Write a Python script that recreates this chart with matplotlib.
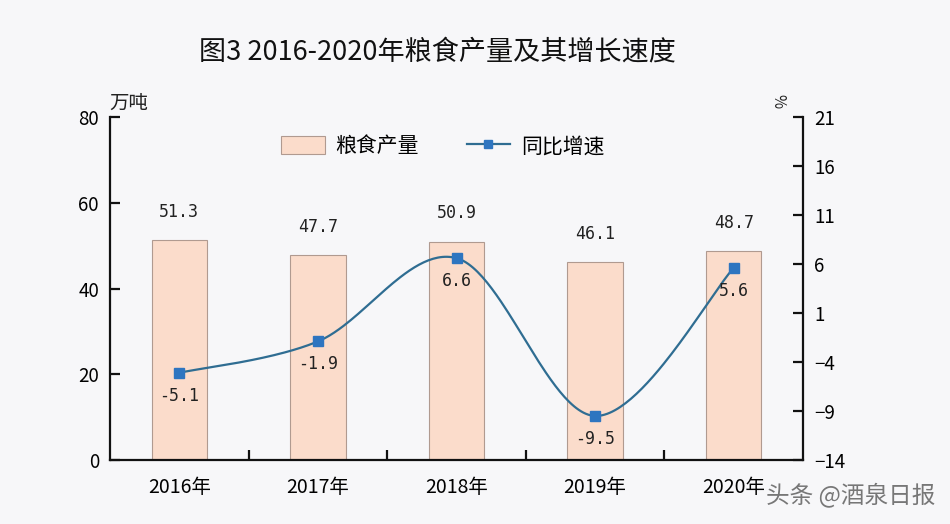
import numpy as np
import matplotlib
matplotlib.use("Agg")
import matplotlib.pyplot as plt
from matplotlib.lines import Line2D
from matplotlib.patches import Patch

plt.rcParams['font.family'] = ['Noto Sans CJK SC', 'DejaVu Sans']

years = ["2016年", "2017年", "2018年", "2019年", "2020年"]
output = [51.3, 47.7, 50.9, 46.1, 48.7]
growth = [-5.1, -1.9, 6.6, -9.5, 5.6]
left_ticks = [0, 20, 40, 60, 80]
right_ticks = [-14, -9, -4, 1, 6, 11, 16, 21]

bg = '#f7f7f9'
bar_fc = '#fbdccb'
bar_ec = '#b09a90'
line_c = '#2f6d92'
mark_c = '#2e75c0'

fig = plt.figure(figsize=(9.5, 5.24), dpi=100, facecolor=bg)
ax = fig.add_axes([0.1158, 0.1221, 0.7295, 0.6546])
ax.set_facecolor(bg)
x = np.arange(len(years))

ax.bar(x, output, width=0.40, color=bar_fc, edgecolor=bar_ec, linewidth=0.8, zorder=2)
ax.set_xlim(-0.5, len(years) - 0.5)
ax.set_ylim(0, 80)
ax.set_yticks(left_ticks)
for xi, v in zip(x, output):
    ax.annotate(f"{v:.1f}", (xi, v), xytext=(0, 14), textcoords='offset points',
                ha='center', va='bottom', fontsize=12, family='DejaVu Sans Mono', color='#222222')

for s in ['top', 'right']:
    ax.spines[s].set_visible(False)
for s in ['left', 'bottom']:
    ax.spines[s].set_linewidth(1.6)
    ax.spines[s].set_color('#111111')
ax.set_xticks(x)
ax.set_xticklabels(years, fontsize=14)
ax.tick_params(axis='x', length=0, pad=12)
ax.set_xticks(np.arange(0.5, len(years) - 0.5, 1), minor=True)
ax.tick_params(axis='x', which='minor', direction='in', length=7, width=1.6, color='#111111')
ax.tick_params(axis='y', direction='in', length=7, width=1.6, labelsize=13.5, pad=8, color='#111111')

ax2 = ax.twinx()
ax2.set_ylim(-14, 21)
ax2.set_yticks(right_ticks)
for s in ['top', 'left', 'bottom']:
    ax2.spines[s].set_visible(False)
ax2.spines['right'].set_linewidth(1.6)
ax2.spines['right'].set_color('#111111')
ax2.tick_params(axis='y', direction='in', length=7, width=1.6, labelsize=13.5, pad=8, color='#111111')

# smooth curve (Catmull-Rom through the data points)
g = np.asarray(growth, dtype=float)
px = np.concatenate([[x[0]], x, [x[-1]]]).astype(float)
py = np.concatenate([[g[0]], g, [g[-1]]])
cx, cy = [], []
for i in range(1, len(px) - 2):
    t = np.linspace(0, 1, 60)
    for arr, out in ((px, cx), (py, cy)):
        p0, p1, p2, p3 = arr[i - 1], arr[i], arr[i + 1], arr[i + 2]
        out.extend(0.5 * ((2 * p1) + (-p0 + p2) * t + (2 * p0 - 5 * p1 + 4 * p2 - p3) * t ** 2
                          + (-p0 + 3 * p1 - 3 * p2 + p3) * t ** 3))
ax2.plot(cx, cy, color=line_c, linewidth=1.6, zorder=3)
ax2.plot(x, g, linestyle='none', marker='s', markersize=7, color=mark_c, zorder=4)
for xi, v in zip(x, g):
    ax2.annotate(f"{v:.1f}", (xi, v), xytext=(0, -10), textcoords='offset points',
                 ha='center', va='top', fontsize=12, family='DejaVu Sans Mono', color='#222222')

fig.text(0.46, 0.9, "图3 2016-2020年粮食产量及其增长速度", ha='center', va='center',
         fontsize=19.5, color='#111111', fontweight='medium')
fig.text(0.115, 0.803, "万吨", ha='left', va='center', fontsize=14, color='#222222')
fig.text(0.819, 0.807, "%", ha='center', va='center', fontsize=11, color='#222222', rotation=-90)

handles = [Patch(facecolor=bar_fc, edgecolor=bar_ec, linewidth=0.8),
           Line2D([0], [0], color=line_c, linewidth=1.6, marker='s', markersize=6,
                  markerfacecolor=mark_c, markeredgecolor=mark_c)]
leg = ax.legend(handles, ["粮食产量", "同比增速"], loc='center', bbox_to_anchor=(0.48, 0.915),
                ncol=2, frameon=False, fontsize=15, handlelength=2.1, handleheight=0.9,
                columnspacing=2.3, handletextpad=0.5)

fig.text(0.985, 0.055, "头条 @酒泉日报", ha='right', va='center', fontsize=17, color='#777777')

fig.savefig("out.png", dpi=100, facecolor=bg)
